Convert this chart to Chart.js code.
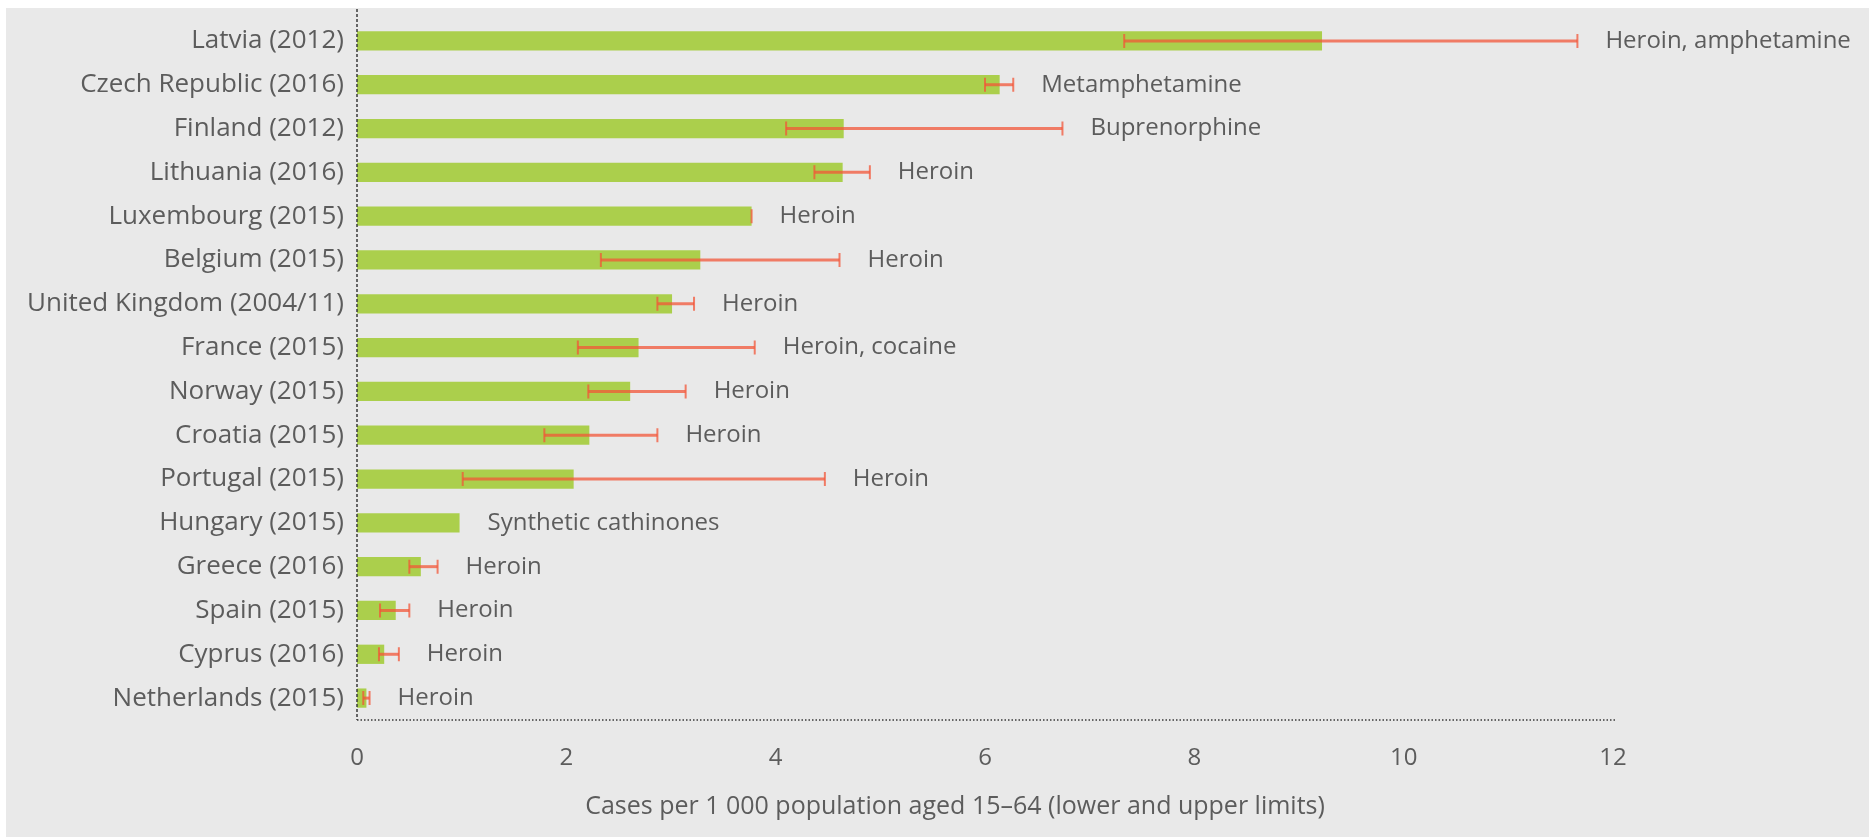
<!DOCTYPE html>
<html>
<head>
<meta charset="utf-8">
<script src="https://cdn.jsdelivr.net/npm/chart.js@4/dist/chart.umd.min.js"></script>
<style>
  html, body { margin: 0; padding: 0; background: #ffffff; }
  canvas { display: block; }
</style>
</head>
<body>
<canvas id="myChart" width="1869" height="837"></canvas>
<script>
// countries (top to bottom)
const countries = ['Latvia (2012)', 'Czech Republic (2016)', 'Finland (2012)', 'Lithuania (2016)',
    'Luxembourg (2015)', 'Belgium (2015)', 'United Kingdom (2004/11)', 'France (2015)',
    'Norway (2015)', 'Croatia (2015)', 'Portugal (2015)', 'Hungary (2015)',
    'Greece (2016)', 'Spain (2015)', 'Cyprus (2016)', 'Netherlands (2015)'];

// cases per 1 000 population aged 15-64
const estimate = [9.22, 6.14, 4.65, 4.64, 3.77, 3.28, 3.01, 2.69, 2.61, 2.22, 2.07, 0.98, 0.61, 0.37, 0.26, 0.09];
const lowerLimit = [7.33, 6.00, 4.10, 4.37, 3.77, 2.33, 2.87, 2.11, 2.21, 1.79, 1.01, null, 0.50, 0.22, 0.21, 0.06];
const upperLimit = [11.66, 6.27, 6.74, 4.90, 3.77, 4.61, 3.22, 3.80, 3.14, 2.87, 4.47, null, 0.77, 0.50, 0.40, 0.12];

// main drug for each country
const mainDrug = ['Heroin, amphetamine', 'Metamphetamine', 'Buprenorphine', 'Heroin', 'Heroin', 'Heroin',
    'Heroin', 'Heroin, cocaine', 'Heroin', 'Heroin', 'Heroin', 'Synthetic cathinones',
    'Heroin', 'Heroin', 'Heroin', 'Heroin'];

const xTicks = [0, 2, 4, 6, 8, 10, 12];
const xTitle = 'Cases per 1 000 population aged 15\u201364 (lower and upper limits)';

const FONT = '"Open Sans", "DejaVu Sans", sans-serif';
const TEXT = '#5c5c5c';

// grey panel behind everything
const panelBg = {
    id: 'panelBg',
    beforeDraw(chart) {
        const c = chart.ctx;
        c.save();
        c.fillStyle = '#e9e9e9';
        c.fillRect(6, 8, chart.width - 6, chart.height - 8);
        c.restore();
    }
};

// error bars + drug labels
const errorBars = {
    id: 'errorBars',
    afterDatasetsDraw(chart) {
        const c = chart.ctx;
        const xs = chart.scales.x;
        const meta = chart.getDatasetMeta(0);
        c.save();
        for (let i = 0; i < countries.length; i++) {
            const bar = meta.data[i];
            const y = bar.y;
            let right = xs.getPixelForValue(estimate[i]);
            if (lowerLimit[i] !== null) {
                const x1 = xs.getPixelForValue(lowerLimit[i]);
                const x2 = xs.getPixelForValue(upperLimit[i]);
                c.strokeStyle = 'rgba(243,85,55,0.74)';
                c.lineWidth = 3;
                c.beginPath();
                c.moveTo(x1, y);
                c.lineTo(x2, y);
                c.stroke();
                c.lineWidth = 2;
                c.beginPath();
                c.moveTo(x1, y - 7); c.lineTo(x1, y + 7);
                c.moveTo(x2, y - 7); c.lineTo(x2, y + 7);
                c.stroke();
                right = Math.max(right, x2);
            }
            c.fillStyle = TEXT;
            c.font = '24px ' + FONT;
            c.textAlign = 'left';
            c.textBaseline = 'middle';
            c.fillText(mainDrug[i], right + 28, y);
        }
        c.restore();
    }
};

// dashed left axis, dotted base line, axis title (sits left of centre in the original)
const axisLines = {
    id: 'axisLines',
    afterDraw(chart) {
        const c = chart.ctx;
        const a = chart.chartArea;
        c.save();
        c.strokeStyle = '#3a3a3a';
        c.lineWidth = 1.5;
        c.setLineDash([3, 2]);
        c.beginPath();
        c.moveTo(a.left, 9);
        c.lineTo(a.left, a.bottom);
        c.stroke();
        c.setLineDash([1.5, 2]);
        c.beginPath();
        c.moveTo(a.left, a.bottom);
        c.lineTo(a.right + 3, a.bottom);
        c.stroke();
        c.setLineDash([]);
        c.fillStyle = TEXT;
        c.font = '25px ' + FONT;
        c.textAlign = 'center';
        c.textBaseline = 'middle';
        c.fillText(xTitle, a.left + 598, a.bottom + 87);
        c.restore();
    }
};

var ctx = document.getElementById('myChart').getContext('2d');

var chart = new Chart(ctx, {
    type: 'bar',
    data: {
        labels: countries,
        datasets: [{
            data: estimate,
            backgroundColor: '#abcf4c',
            borderWidth: 0,
            barPercentage: 0.44,
            categoryPercentage: 1
        }]
    },
    options: {
        indexAxis: 'y',
        responsive: false,
        animation: false,
        devicePixelRatio: 1,
        layout: { padding: { top: 19, right: 256, bottom: 0, left: 0 } },
        plugins: {
            legend: { display: false },
            tooltip: { enabled: false }
        },
        scales: {
            y: {
                grid: { display: false, drawTicks: false },
                border: { display: false },
                ticks: { color: TEXT, font: { family: FONT, size: 26 }, padding: 13 },
                afterFit(s) {
                    s.width = 357;
                    s.paddingTop = 0;
                    s.paddingBottom = 0;
                }
            },
            x: {
                min: 0,
                max: 12,
                afterBuildTicks(s) { s.ticks = xTicks.map(v => ({ value: v })); },
                grid: { display: false, drawTicks: false },
                border: { display: false },
                ticks: { color: TEXT, font: { family: FONT, size: 24 }, padding: 24 },
                afterFit(s) {
                    s.height = 117;
                    s.paddingLeft = 0;
                    s.paddingRight = 0;
                }
            }
        }
    },
    plugins: [panelBg, errorBars, axisLines]
});
</script>
</body>
</html>
